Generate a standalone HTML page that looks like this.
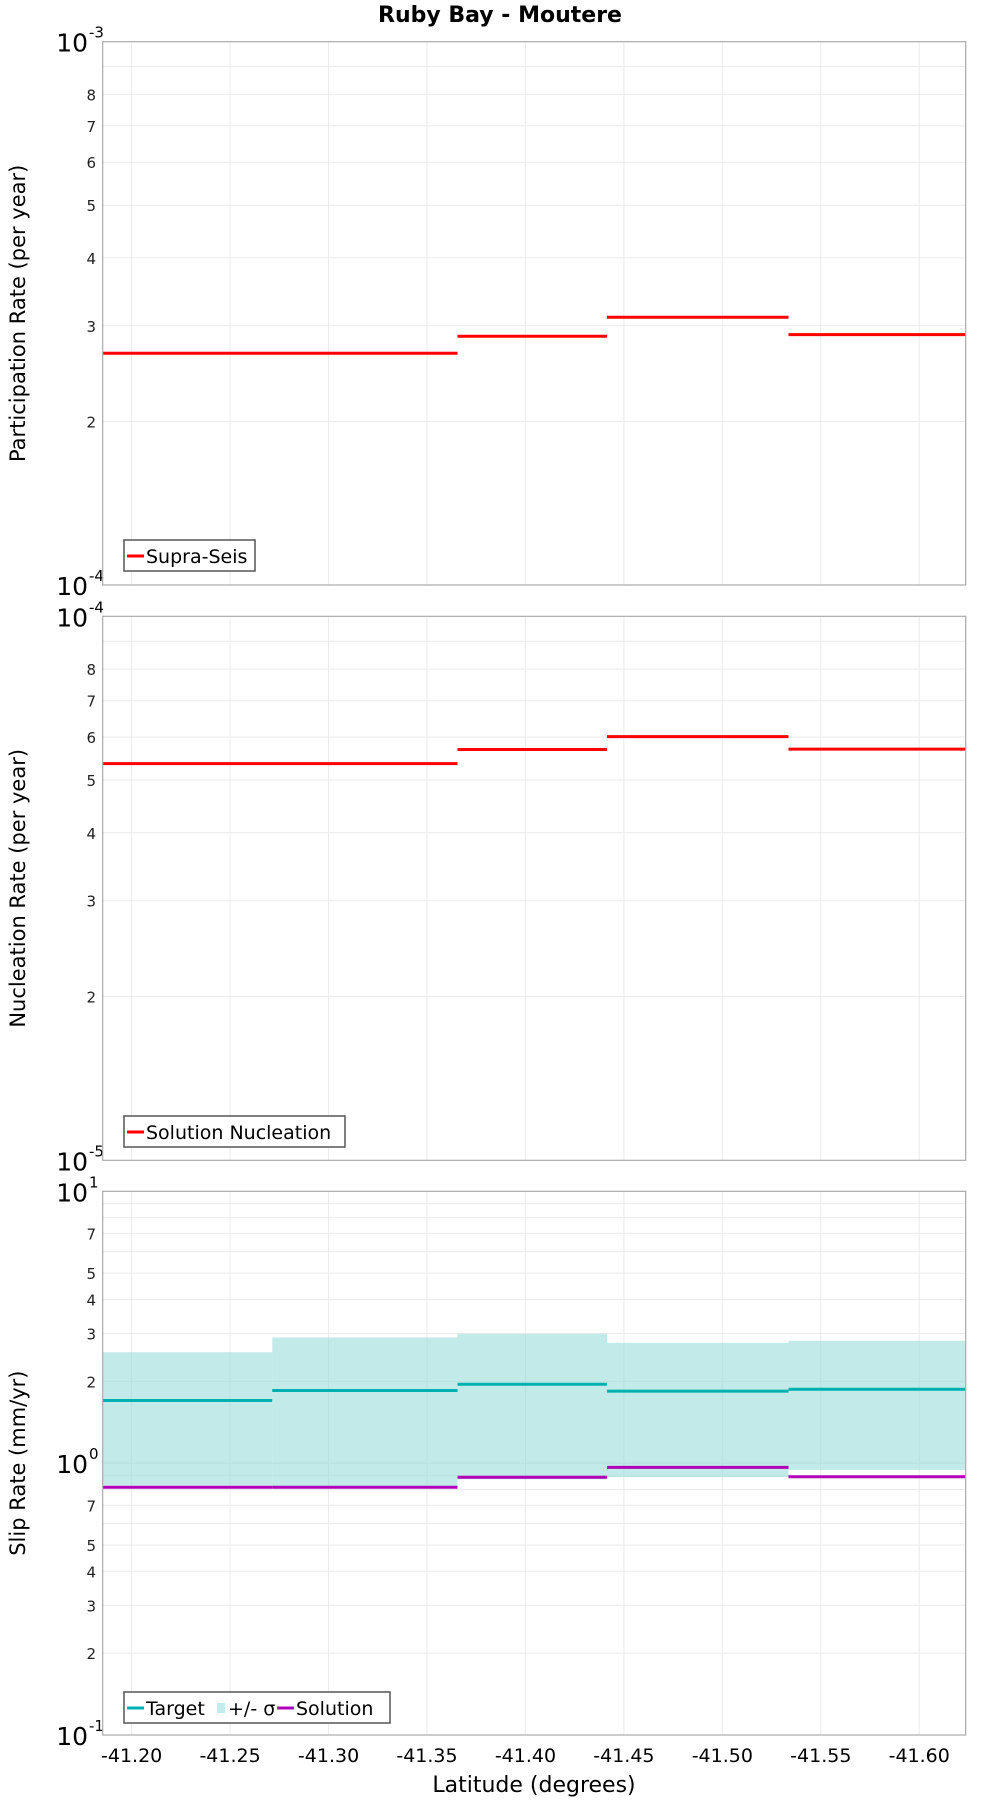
<!DOCTYPE html>
<html><head><meta charset="utf-8"><style>
body{margin:0;background:#fff;}
svg text{font-family:"DejaVu Sans","Liberation Sans",sans-serif;}
</style></head><body>
<svg id="chart" width="1000" height="1800" xmlns="http://www.w3.org/2000/svg">
<text x="500" y="22" text-anchor="middle" font-size="22" font-weight="bold">Ruby Bay - Moutere</text>
<g id="g"></g>
</svg>
<script>
// bin edges (latitude, degrees)
const binEdges4 = [-41.1853, -41.3655, -41.4414, -41.5336, -41.6236];
const binEdges5 = [-41.1853, -41.2714, -41.3655, -41.4414, -41.5336, -41.6236];
const participation = [2.67e-4, 2.87e-4, 3.11e-4, 2.89e-4];
const nucleation = [5.36e-5, 5.69e-5, 6.01e-5, 5.70e-5];
const slipTarget = [1.70, 1.85, 1.95, 1.84, 1.87];
const slipUpper = [2.56, 2.90, 2.99, 2.77, 2.82];
const slipLower = [0.829, 0.808, 0.872, 0.889, 0.944];
const slipSolution = [0.815, 0.815, 0.887, 0.965, 0.891];
const xTicks = [-41.20, -41.25, -41.30, -41.35, -41.40, -41.45, -41.50, -41.55, -41.60];
const xTickLabels = ["-41.20","-41.25","-41.30","-41.35","-41.40","-41.45","-41.50","-41.55","-41.60"];

const NS = "http://www.w3.org/2000/svg";
const G = document.getElementById('g');
const L = 102.7, R = 965.7;
const xMin = -41.1853, xMax = -41.6236;
function X(v){ return L + (v - xMin) / (xMax - xMin) * (R - L); }
function mk(tag, attrs, parent){ const e = document.createElementNS(NS, tag); for (const k in attrs) e.setAttribute(k, attrs[k]); (parent||G).appendChild(e); return e; }

function panel(top, bottom, dMin, dMax, labels, title, name){
  const Y = v => bottom - (Math.log10(v) - dMin) / (dMax - dMin) * (bottom - top);
  const grp = mk('g', {});
  
  
  for (let d = dMin; d < dMax; d++) for (let m = 2; m <= 9; m++) {
    const y = Y(m * Math.pow(10, d));
    const gl = mk('line', {x1:L, x2:R, y1:y, y2:y, stroke:'#ebebeb', 'stroke-width':1}, grp);
    
    
  }
  for (let d = dMin + 1; d < dMax; d++) { const y = Y(Math.pow(10, d)); mk('line', {x1:L, x2:R, y1:y, y2:y, stroke:'#e4e4e4', 'stroke-width':1}, grp); }
  xTicks.forEach(t => { const x = X(t);
    const vl = mk('line', {x1:x, x2:x, y1:top, y2:bottom, stroke:'#ebebeb', 'stroke-width':1}, grp);
    
    
  });
  for (let d = dMin; d < dMax; d++) labels.forEach(m => {
    const t = mk('text', {x:96, y:Y(m*Math.pow(10,d)) + 6, 'text-anchor':'end', 'font-size':15, fill:'#222'}, grp);
    t.textContent = m;
    
    
  });
  for (let d = dMin; d <= dMax; d++) {
    const t = mk('text', {x:88, y:Y(Math.pow(10,d)) + 10, 'text-anchor':'end', 'font-size':25}, grp);
    t.textContent = '10';
    
    
    const s = mk('text', {x:89, y:Y(Math.pow(10,d)) - 4, 'font-size':15}, grp);
    s.textContent = String(d);
    
    
  }
  const at = mk('text', {x:0, y:0, 'font-size':21, 'text-anchor':'middle', transform:'translate(25,' + ((top+bottom)/2) + ') rotate(-90)'}, grp);
  at.textContent = title;
  
  
  return {Y, grp};
}
function border(top, bottom, grp){
  const b = mk('rect', {x:L, y:top, width:R-L, height:bottom-top, fill:'none', stroke:'#aaa', 'stroke-width':1.2}, grp);
  
  
}
function steps(edges, vals, Y, color, grp, nm){
  vals.forEach((v, i) => {
    const l = mk('line', {x1:X(edges[i]), x2:X(edges[i+1]), y1:Y(v), y2:Y(v), stroke:color, 'stroke-width':3}, grp);
    
    
  });
}
function legend(x, y, w, items, grp){
  const lg = mk('g', {}, grp);
  
  
  mk('rect', {x:x, y:y, width:w, height:31, fill:'#fff', stroke:'#555', 'stroke-width':1.5}, lg);
  let cx = x + 3;
  items.forEach(it => {
    if (it.band) mk('rect', {x:cx+2, y:y+11, width:8, height:10, fill:it.color}, lg);
    else mk('line', {x1:cx, x2:cx+17, y1:y+16, y2:y+16, stroke:it.color, 'stroke-width':3}, lg);
    const t = mk('text', {x:cx + (it.band?13:19), y:y+23, 'font-size':19}, lg);
    t.textContent = it.label;
    
    
    cx += it.w;
  });
}
let p = panel(41.7, 585, -4, -3, [2,3,4,5,6,7,8], 'Participation Rate (per year)', 'participation');
steps(binEdges4, participation, p.Y, '#ff0000', p.grp, 'supra-seis-step');
border(41.7, 585, p.grp);
legend(124, 540, 131, [{label:'Supra-Seis', color:'#ff0000', w:130}], p.grp);
p = panel(616.3, 1160.3, -5, -4, [2,3,4,5,6,7,8], 'Nucleation Rate (per year)', 'nucleation');
steps(binEdges4, nucleation, p.Y, '#ff0000', p.grp, 'nucleation-step');
border(616.3, 1160.3, p.grp);
legend(124, 1116, 221, [{label:'Solution Nucleation', color:'#ff0000', w:220}], p.grp);
p = panel(1191.3, 1735, -1, 1, [2,3,4,5,7], 'Slip Rate (mm/yr)', 'slip');
slipUpper.forEach((u, i) => {
  const r = mk('rect', {x:X(binEdges5[i]), y:p.Y(u), width:X(binEdges5[i+1])-X(binEdges5[i]), height:p.Y(slipLower[i])-p.Y(u), fill:'#9adcda', 'fill-opacity':0.6}, p.grp);
  
  
});
steps(binEdges5, slipTarget, p.Y, '#00b0b0', p.grp, 'target-step');
steps(binEdges5, slipSolution, p.Y, '#b000b8', p.grp, 'solution-step');
border(1191.3, 1735, p.grp);
legend(124, 1692, 266, [{label:'Target', color:'#00b0b0', w:88},{label:'+/- σ', color:'#c3ecea', band:true, w:62},{label:'Solution', color:'#b000b8', w:110}], p.grp);
xTicks.forEach((t, i) => {
  const tx = mk('text', {x:X(t), y:1762, 'text-anchor':'middle', 'font-size':19});
  tx.textContent = xTickLabels[i];
  
  
});
const xt = mk('text', {x:534, y:1792, 'text-anchor':'middle', 'font-size':22});
xt.textContent = 'Latitude (degrees)';


</script>
</body></html>
